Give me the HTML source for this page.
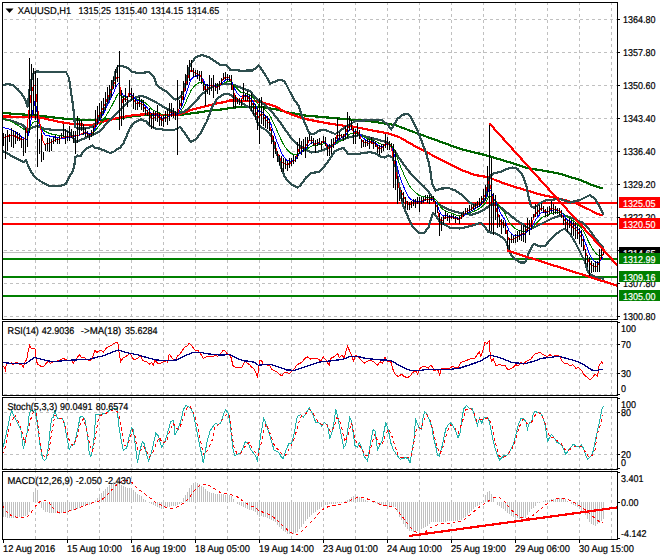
<!DOCTYPE html><html><head><meta charset="utf-8"><style>
html,body{margin:0;padding:0;background:#fff;width:660px;height:560px;overflow:hidden}
svg{display:block}
text{font-family:"Liberation Sans",sans-serif;font-size:9.9px;fill:#000;text-rendering:geometricPrecision;stroke:#000;stroke-width:0.2px}
.w{fill:#fff;stroke:#fff}
</style></head><body>
<svg width="660" height="560" viewBox="0 0 660 560">
<rect x="0" y="0" width="660" height="560" fill="#fff"/>
<path d="M35.5 2 V539 M67.5 2 V539 M99.5 2 V539 M131.5 2 V539 M163.5 2 V539 M195.5 2 V539 M227.5 2 V539 M259.5 2 V539 M291.5 2 V539 M323.5 2 V539 M355.5 2 V539 M387.5 2 V539 M419.5 2 V539 M451.5 2 V539 M483.5 2 V539 M515.5 2 V539 M547.5 2 V539 M579.5 2 V539 M611.5 2 V539" stroke="#c0c0c0" stroke-width="1" stroke-dasharray="3 3" fill="none" shape-rendering="crispEdges"/>
<path d="M4 19.5 H617 M4 52.5 H617 M4 85.5 H617 M4 118.5 H617 M4 151.5 H617 M4 184.5 H617 M4 217.5 H617 M4 250.5 H617 M4 283.5 H617 M4 316.5 H617 M4 344.5 H617 M4 373.5 H617 M4 394.5 H617 M4 412.5 H617 M4 454.5 H617 M4 468.5 H617" stroke="#c0c0c0" stroke-width="1" stroke-dasharray="3 3" fill="none" shape-rendering="crispEdges"/>
<svg x="3" y="3" width="614" height="316" viewBox="3 3 614 316" overflow="hidden">
<path d="M3 252.5 H617" stroke="#c0c0c0" stroke-width="1" shape-rendering="crispEdges"/>
<path d="M3 203 H617" stroke="#ff0000" stroke-width="2" shape-rendering="crispEdges"/>
<path d="M3 224 H617" stroke="#ff0000" stroke-width="2" shape-rendering="crispEdges"/>
<path d="M3 259 H617" stroke="#008000" stroke-width="2" shape-rendering="crispEdges"/>
<path d="M3 277 H617" stroke="#008000" stroke-width="2" shape-rendering="crispEdges"/>
<path d="M3 296 H617" stroke="#008000" stroke-width="2" shape-rendering="crispEdges"/>
<polyline points="3.0,113.0 37.0,115.5 70.0,119.3 91.4,120.0 112.9,119.3 134.3,116.0 150.0,114.5 177.0,115.4 197.9,112.5 215.7,109.8 220.0,109.7 232.9,107.6 245.7,106.9 262.9,107.3 275.7,109.3 288.6,112.5 300.0,114.6 305.0,115.5 350.0,119.5 370.0,121.2 395.0,125.0 415.0,132.5 460.0,148.8 485.0,155.0 510.0,162.5 530.0,168.8 540.0,170.0 560.0,173.8 580.0,180.0 595.0,186.2 603.0,188.5" fill="none" stroke="#006400" stroke-width="2.2" stroke-linejoin="round" shape-rendering="crispEdges"/>
<polyline points="3.0,116.5 37.5,117.0 60.0,122.0 70.0,123.6 82.9,124.6 93.6,124.6 104.3,121.4 117.0,118.0 134.3,115.0 150.0,114.0 166.4,115.0 179.3,114.5 192.1,109.6 197.9,108.0 205.0,106.4 215.7,103.6 225.0,102.0 230.0,100.5 245.7,100.7 258.6,101.5 271.4,105.0 275.0,106.2 284.3,111.4 290.0,113.9 300.0,117.5 307.9,119.5 325.7,123.0 343.6,125.7 350.0,126.0 370.0,130.0 390.0,133.8 400.0,137.5 415.0,146.2 460.0,169.5 475.0,175.0 490.0,177.5 495.0,180.0 510.0,185.5 525.0,190.0 540.0,194.5 565.0,200.0 577.5,203.8 590.0,210.0 597.5,213.8 603.0,215.5" fill="none" stroke="#ff0000" stroke-width="2.2" stroke-linejoin="round" shape-rendering="crispEdges"/>
<polyline points="3.0,85.0 7.5,84.0 12.5,85.0 17.5,89.0 22.5,95.0 26.0,101.0 27.5,107.0 29.5,90.0 32.5,74.0 36.0,71.5 50.0,72.0 66.0,72.0 69.0,78.0 71.0,92.0 73.0,105.0 74.3,118.0 75.0,127.0 78.0,128.5 85.0,128.5 92.0,127.0 96.0,123.0 99.0,118.0 103.0,112.0 108.6,102.0 112.9,83.0 116.0,70.0 118.2,65.7 121.4,65.7 127.9,67.9 132.0,72.0 138.6,73.0 145.0,72.5 149.3,72.0 153.6,76.4 156.8,85.0 162.0,89.3 166.4,91.4 170.7,95.7 175.0,99.5 178.0,99.0 181.0,96.0 184.0,90.0 187.0,78.0 189.0,68.0 192.0,62.0 196.0,57.1 201.4,55.0 208.6,57.1 215.7,61.6 220.2,65.2 226.4,65.0 230.0,69.6 241.0,70.7 252.5,70.5 256.4,67.5 258.8,65.5 262.0,70.0 266.0,76.0 270.0,83.7 275.7,81.4 280.0,79.5 283.8,81.0 286.0,84.0 290.0,92.0 295.0,101.0 298.9,106.0 301.6,115.0 305.2,124.0 309.4,133.4 313.7,134.0 319.0,130.7 324.4,129.7 329.8,131.8 335.2,134.0 340.0,131.0 345.0,127.0 350.0,124.5 355.0,121.2 370.0,120.0 380.0,120.0 382.5,120.5 387.5,124.5 391.2,129.5 393.8,125.0 397.5,118.8 402.5,114.8 407.5,113.8 411.2,117.5 416.2,127.5 421.2,140.0 425.0,150.0 428.8,162.5 430.5,172.0 432.1,184.0 435.5,190.5 440.9,188.6 448.9,188.1 455.4,190.5 460.2,193.8 465.0,197.8 470.0,203.0 475.0,205.0 480.0,204.0 485.0,200.0 487.0,195.0 489.0,178.0 492.5,173.8 500.0,172.0 507.5,168.8 512.5,167.5 517.5,168.8 522.5,175.0 526.2,185.0 528.8,198.0 531.0,206.0 534.0,208.0 538.0,205.0 542.0,202.0 545.0,200.5 550.0,200.0 560.0,198.8 570.0,202.5 580.0,200.0 590.0,195.0 595.0,198.8 600.0,207.5 603.5,215.0" fill="none" stroke="#2f4f4f" stroke-width="2.2" stroke-linejoin="round" shape-rendering="crispEdges"/>
<polyline points="3.0,119.0 12.5,121.0 22.5,125.0 27.5,130.0 32.5,127.5 37.5,126.0 45.0,129.0 55.0,130.0 65.0,130.0 70.0,133.0 73.0,138.0 75.4,142.0 80.7,140.0 88.2,136.8 93.6,134.7 100.0,131.4 106.4,123.6 115.0,115.0 121.4,108.6 127.9,102.0 134.3,97.9 140.7,96.0 145.0,96.8 150.0,99.0 155.7,102.1 166.4,108.6 175.0,112.9 179.3,113.0 183.5,112.0 188.5,108.8 194.8,102.5 201.0,95.0 204.8,92.0 208.6,88.5 215.7,85.7 222.9,83.9 230.0,83.9 235.0,85.3 242.5,88.4 250.0,91.0 255.0,97.5 265.0,105.0 270.9,110.7 278.0,119.3 285.0,129.3 290.9,137.9 296.6,143.6 302.3,147.5 306.0,150.0 311.4,152.5 318.6,151.6 324.0,149.8 329.3,147.1 333.0,145.0 338.0,142.0 343.6,139.0 350.0,137.0 360.0,135.0 375.0,138.8 387.5,142.5 392.5,147.5 399.0,157.9 407.9,170.2 416.8,180.0 424.0,186.5 431.0,195.0 434.4,201.5 440.9,205.5 449.4,210.0 460.0,213.0 465.0,214.0 471.4,214.7 477.9,213.0 484.3,209.8 490.0,205.0 495.0,203.8 502.5,208.8 510.0,215.0 517.5,221.2 522.5,224.0 525.0,226.0 530.0,229.0 535.0,227.0 540.0,224.5 547.0,221.0 553.0,218.0 560.0,215.5 565.0,216.0 570.0,217.0 575.4,219.7 582.0,222.4 588.8,229.0 595.5,238.5 602.2,246.5 603.8,247.5" fill="none" stroke="#2f4f4f" stroke-width="2.2" stroke-linejoin="round" shape-rendering="crispEdges"/>
<polyline points="3.0,151.0 10.0,155.0 17.5,159.0 24.0,162.5 26.0,160.0 27.5,164.0 30.0,170.0 35.0,177.5 42.5,182.5 50.0,186.0 60.0,186.0 66.0,184.0 70.0,175.0 72.5,172.0 74.3,166.0 75.4,157.0 77.5,155.5 80.7,156.0 82.9,151.8 86.0,149.0 92.5,145.4 94.7,148.0 100.0,148.6 102.9,150.0 110.0,152.9 114.3,151.4 117.0,149.3 120.0,148.0 123.6,142.9 130.0,127.9 134.3,122.5 140.7,119.3 146.0,121.4 150.0,125.7 155.0,128.5 166.4,130.0 174.0,130.0 180.0,127.0 185.4,133.9 190.7,142.0 196.0,139.3 201.4,132.1 206.8,121.4 212.1,107.1 217.5,98.2 224.6,93.8 230.0,94.6 235.4,98.2 242.5,103.6 250.0,108.0 256.4,118.0 258.0,124.0 262.5,128.0 267.5,131.0 272.3,137.9 276.6,152.0 280.9,166.4 284.3,176.0 288.6,182.0 292.9,185.4 297.1,187.5 300.0,186.0 306.0,177.5 311.4,173.0 318.6,172.1 324.0,166.8 329.3,159.6 334.6,151.6 340.0,148.9 343.6,148.0 348.0,154.0 358.7,153.8 369.4,152.2 375.0,153.0 380.0,156.4 384.4,157.5 388.7,155.4 392.5,157.5 396.0,168.0 399.0,185.0 402.5,204.0 405.0,210.0 407.9,216.8 413.2,227.5 418.6,232.9 424.0,232.9 428.4,227.5 431.0,218.6 432.9,213.2 436.0,216.0 440.2,222.2 450.0,227.6 460.0,228.5 470.0,226.2 476.0,224.3 480.4,222.8 483.8,225.5 488.5,232.2 495.0,233.0 500.5,236.2 504.5,239.0 507.2,244.3 508.5,249.6 511.0,255.0 515.0,259.0 520.0,262.5 525.0,262.5 530.0,250.0 533.8,243.8 540.0,246.5 545.0,246.0 550.0,240.0 555.0,235.0 560.0,231.0 565.0,228.5 570.0,234.0 575.0,242.0 580.0,252.0 585.0,262.0 588.0,272.0 592.0,275.5 597.5,277.5 603.8,278.8" fill="none" stroke="#2f4f4f" stroke-width="2.2" stroke-linejoin="round" shape-rendering="crispEdges"/>
<polyline points="3.0,118.8 5.0,119.4 7.0,120.0 9.0,120.7 11.0,121.5 13.0,122.6 15.0,123.7 17.0,124.7 19.0,126.0 21.0,127.3 23.0,128.7 25.0,130.0 27.0,130.7 29.0,130.7 31.0,126.0 33.0,122.3 35.0,121.8 37.0,121.2 39.0,123.7 41.0,127.3 43.0,130.2 45.0,131.2 47.0,132.2 49.0,133.2 51.0,133.9 53.0,134.3 55.0,134.7 57.0,135.0 59.0,135.4 61.0,135.7 63.0,136.0 65.0,136.0 67.0,136.0 69.0,136.0 71.0,136.0 73.0,136.0 75.0,136.0 77.0,135.6 79.0,135.2 81.0,134.8 83.0,134.3 85.0,133.9 87.0,133.6 89.0,133.7 91.0,133.5 93.0,133.1 95.0,130.8 97.0,128.5 99.0,125.9 101.0,123.4 103.0,120.7 105.0,117.6 107.0,114.2 109.0,110.8 111.0,107.4 113.0,103.6 115.0,99.7 117.0,95.6 119.0,93.1 121.0,95.4 123.0,97.3 125.0,96.9 127.0,97.6 129.0,96.2 131.0,96.0 133.0,96.7 135.0,97.9 137.0,99.1 139.0,99.5 141.0,100.3 143.0,101.2 145.0,102.7 147.0,104.3 149.0,106.1 151.0,108.5 153.0,110.2 155.0,111.0 157.0,111.4 159.0,112.7 161.0,113.9 163.0,115.0 165.0,115.2 167.0,115.4 169.0,114.9 171.0,114.1 173.0,113.9 175.0,114.2 177.0,114.7 179.0,113.1 181.0,110.9 183.0,107.8 185.0,103.9 187.0,99.4 189.0,95.0 191.0,90.5 193.0,87.8 195.0,85.6 197.0,83.9 199.0,82.7 201.0,81.9 203.0,82.6 205.0,84.5 207.0,85.2 209.0,85.2 211.0,85.1 213.0,85.2 215.0,85.5 217.0,85.9 219.0,85.8 221.0,85.1 223.0,83.8 225.0,82.6 227.0,81.8 229.0,81.2 231.0,81.4 233.0,83.7 235.0,86.5 237.0,88.7 239.0,90.6 241.0,92.4 243.0,92.2 245.0,92.9 247.0,93.4 249.0,94.6 251.0,95.7 253.0,97.7 255.0,99.9 257.0,102.8 259.0,105.6 261.0,106.3 263.0,107.9 265.0,110.0 267.0,111.9 269.0,113.9 271.0,117.4 273.0,122.0 275.0,126.0 277.0,130.6 279.0,135.1 281.0,139.6 283.0,143.5 285.0,146.7 287.0,149.6 289.0,151.7 291.0,153.3 293.0,154.2 295.0,155.0 297.0,154.3 299.0,153.0 301.0,152.2 303.0,151.2 305.0,150.6 307.0,149.3 309.0,147.6 311.0,146.4 313.0,145.7 315.0,145.9 317.0,145.3 319.0,144.7 321.0,144.9 323.0,144.0 325.0,143.6 327.0,144.7 329.0,145.5 331.0,145.7 333.0,145.3 335.0,144.5 337.0,142.2 339.0,141.3 341.0,140.5 343.0,140.1 345.0,138.9 347.0,136.8 349.0,134.7 351.0,133.2 353.0,133.6 355.0,134.0 357.0,133.3 359.0,133.5 361.0,135.1 363.0,136.4 365.0,137.5 367.0,138.3 369.0,139.2 371.0,139.4 373.0,140.2 375.0,140.8 377.0,142.0 379.0,143.3 381.0,144.1 383.0,144.6 385.0,144.0 387.0,143.9 389.0,144.2 391.0,144.4 393.0,147.7 395.0,151.1 397.0,157.1 399.0,162.8 401.0,167.8 403.0,172.3 405.0,177.0 407.0,181.3 409.0,185.0 411.0,188.0 413.0,190.2 415.0,192.3 417.0,193.6 419.0,195.3 421.0,196.1 423.0,196.7 425.0,196.9 427.0,197.2 429.0,197.5 431.0,197.7 433.0,197.8 435.0,199.3 437.0,200.8 439.0,204.5 441.0,207.5 443.0,209.5 445.0,210.3 447.0,211.4 449.0,212.5 451.0,213.1 453.0,213.8 455.0,214.6 457.0,215.2 459.0,215.9 461.0,216.0 463.0,215.6 465.0,214.9 467.0,214.2 469.0,213.4 471.0,212.6 473.0,211.7 475.0,210.8 477.0,209.9 479.0,208.7 481.0,207.5 483.0,205.7 485.0,203.7 487.0,200.2 489.0,196.6 491.0,196.3 493.0,199.0 495.0,200.3 497.0,202.7 499.0,205.5 501.0,208.7 503.0,211.0 505.0,213.6 507.0,217.6 509.0,221.7 511.0,224.2 513.0,226.6 515.0,228.4 517.0,229.6 519.0,230.4 521.0,230.8 523.0,231.2 525.0,231.6 527.0,230.6 529.0,230.1 531.0,229.1 533.0,227.0 535.0,224.5 537.0,222.4 539.0,220.4 541.0,218.3 543.0,216.9 545.0,216.3 547.0,215.6 549.0,214.8 551.0,213.6 553.0,212.9 555.0,212.5 557.0,212.2 559.0,212.0 561.0,212.3 563.0,213.6 565.0,215.1 567.0,216.8 569.0,217.7 571.0,219.2 573.0,220.7 575.0,222.2 577.0,223.7 579.0,225.5 581.0,227.5 583.0,230.1 585.0,234.2 587.0,238.2 589.0,242.6 591.0,246.3 593.0,249.6 595.0,252.2 597.0,254.4 599.0,255.3 601.0,255.0 603.0,254.4" fill="none" stroke="#008000" stroke-width="1" shape-rendering="crispEdges"/>
<polyline points="3.0,127.5 5.0,128.0 7.0,128.6 9.0,129.1 11.0,129.6 13.0,130.4 15.0,131.9 17.0,133.4 19.0,134.9 21.0,136.4 23.0,137.8 25.0,138.8 27.0,139.8 29.0,131.4 31.0,120.0 33.0,110.5 35.0,101.0 37.0,111.6 39.0,122.2 41.0,129.0 43.0,132.0 45.0,135.0 47.0,135.4 49.0,135.9 51.0,136.3 53.0,136.7 55.0,137.1 57.0,137.6 59.0,138.0 61.0,138.4 63.0,138.6 65.0,138.2 67.0,137.8 69.0,137.4 71.0,136.9 73.0,136.5 75.0,136.1 77.0,135.6 79.0,135.2 81.0,134.6 83.0,133.6 85.0,133.0 87.0,132.8 89.0,133.5 91.0,133.4 93.0,132.5 95.0,128.5 97.0,124.8 99.0,121.1 101.0,117.8 103.0,114.5 105.0,110.5 107.0,106.1 109.0,102.2 111.0,98.2 113.0,93.9 115.0,89.4 117.0,84.8 119.0,83.1 121.0,90.2 123.0,95.3 125.0,95.2 127.0,97.0 129.0,94.6 131.0,94.6 133.0,96.4 135.0,98.7 137.0,100.7 139.0,101.0 141.0,102.0 143.0,103.2 145.0,105.4 147.0,107.6 149.0,110.1 151.0,113.3 153.0,115.0 155.0,115.3 157.0,114.8 159.0,116.1 161.0,117.5 163.0,118.4 165.0,117.8 167.0,117.5 169.0,115.9 171.0,114.2 173.0,113.8 175.0,114.4 177.0,115.2 179.0,112.1 181.0,108.4 183.0,103.3 185.0,97.3 187.0,90.9 189.0,85.1 191.0,79.6 193.0,77.6 195.0,76.4 197.0,75.9 199.0,75.9 201.0,76.4 203.0,79.3 205.0,83.8 207.0,85.3 209.0,85.2 211.0,85.0 213.0,85.3 215.0,85.7 217.0,86.4 219.0,86.2 221.0,84.8 223.0,82.3 225.0,80.5 227.0,79.7 229.0,79.2 231.0,80.2 233.0,84.8 235.0,89.6 237.0,92.8 239.0,95.1 241.0,97.2 243.0,95.5 245.0,95.8 247.0,95.9 249.0,97.4 251.0,98.7 253.0,101.5 255.0,104.5 257.0,108.6 259.0,112.1 261.0,111.6 263.0,113.0 265.0,115.4 267.0,117.5 269.0,119.7 271.0,124.5 273.0,130.9 275.0,135.8 277.0,141.6 279.0,146.9 281.0,151.8 283.0,155.6 285.0,158.1 287.0,160.3 289.0,161.0 291.0,161.3 293.0,160.8 295.0,160.3 297.0,157.6 299.0,154.2 301.0,152.4 303.0,150.5 305.0,149.5 307.0,147.5 309.0,144.7 311.0,143.3 313.0,142.9 315.0,144.0 317.0,143.6 319.0,143.0 321.0,143.8 323.0,142.5 325.0,142.2 327.0,144.6 329.0,146.1 331.0,146.3 333.0,145.4 335.0,143.8 337.0,139.8 339.0,138.8 341.0,138.0 343.0,137.9 345.0,136.5 347.0,133.2 349.0,130.4 351.0,128.8 353.0,130.7 355.0,132.3 357.0,131.5 359.0,132.4 361.0,135.6 363.0,137.9 365.0,139.5 367.0,140.4 369.0,141.5 371.0,141.2 373.0,142.2 375.0,142.7 377.0,144.5 379.0,146.1 381.0,146.7 383.0,146.9 385.0,145.2 387.0,144.7 389.0,145.0 391.0,145.1 393.0,151.0 395.0,156.4 397.0,166.0 399.0,174.1 401.0,180.2 403.0,185.0 405.0,190.0 407.0,194.3 409.0,197.5 411.0,199.5 413.0,200.3 415.0,201.2 417.0,201.1 419.0,202.1 421.0,201.7 423.0,201.1 425.0,200.2 427.0,199.9 429.0,199.8 431.0,199.4 433.0,199.2 435.0,201.6 437.0,203.7 439.0,209.7 441.0,213.8 443.0,215.7 445.0,215.5 447.0,215.9 449.0,216.7 451.0,216.7 453.0,216.8 455.0,217.5 457.0,217.9 459.0,218.4 461.0,217.8 463.0,216.6 465.0,215.0 467.0,213.8 469.0,212.3 471.0,211.1 473.0,209.9 475.0,208.7 477.0,207.6 479.0,206.1 481.0,204.6 483.0,202.1 485.0,199.4 487.0,194.2 489.0,189.2 491.0,190.7 493.0,197.4 495.0,200.2 497.0,204.7 499.0,209.3 501.0,214.1 503.0,217.0 505.0,220.0 507.0,225.6 509.0,230.9 511.0,233.0 513.0,234.9 515.0,235.8 517.0,236.0 519.0,235.6 521.0,234.9 523.0,234.5 525.0,234.3 527.0,231.6 529.0,230.4 531.0,228.4 533.0,224.8 535.0,220.7 537.0,217.9 539.0,215.4 541.0,213.0 543.0,211.9 545.0,212.2 547.0,212.2 549.0,211.6 551.0,210.2 553.0,210.0 555.0,209.9 557.0,210.1 559.0,210.5 561.0,211.5 563.0,214.0 565.0,216.8 567.0,219.3 569.0,220.4 571.0,222.3 573.0,224.3 575.0,226.0 577.0,227.7 579.0,230.0 581.0,232.4 583.0,235.9 585.0,241.8 587.0,247.1 589.0,252.7 591.0,256.8 593.0,259.8 595.0,261.7 597.0,263.1 599.0,262.3 601.0,259.7 603.0,257.3" fill="none" stroke="#0000ff" stroke-width="1" shape-rendering="crispEdges"/>
<polyline points="3.0,137.5 5.0,137.0 7.0,136.4 9.0,135.9 11.0,135.4 13.0,135.2 15.0,136.2 17.0,137.2 19.0,138.2 21.0,139.2 23.0,139.6 25.0,138.2 27.0,128.3 29.0,110.0 31.0,95.3 33.0,87.0 35.0,85.0 37.0,102.3 39.0,118.9 41.0,129.9 43.0,140.9 45.0,144.5 47.0,143.7 49.0,142.9 51.0,142.1 53.0,141.3 55.0,140.5 57.0,139.7 59.0,138.9 61.0,138.1 63.0,137.4 65.0,137.1 67.0,136.9 69.0,136.6 71.0,136.3 73.0,136.0 75.0,135.7 77.0,135.4 79.0,135.1 81.0,134.2 83.0,133.1 85.0,132.9 87.0,133.4 89.0,135.0 91.0,134.2 93.0,132.0 95.0,124.3 97.0,119.3 99.0,115.0 101.0,111.8 103.0,108.6 105.0,104.1 107.0,98.9 109.0,95.3 111.0,91.2 113.0,86.5 115.0,81.7 117.0,76.9 119.0,78.1 121.0,95.2 123.0,102.5 125.0,98.2 127.0,100.1 129.0,93.5 131.0,94.1 133.0,98.0 135.0,101.7 137.0,103.9 139.0,102.8 141.0,103.8 143.0,105.0 145.0,108.4 147.0,111.0 149.0,114.1 151.0,118.2 153.0,118.9 155.0,117.2 157.0,115.1 159.0,117.6 161.0,119.4 163.0,120.2 165.0,117.9 167.0,117.3 169.0,114.2 171.0,111.9 173.0,112.4 175.0,114.4 177.0,115.9 179.0,109.4 181.0,103.4 183.0,96.0 185.0,88.3 187.0,80.7 189.0,74.9 191.0,69.8 193.0,71.3 195.0,72.6 197.0,73.7 199.0,75.0 201.0,76.4 203.0,82.2 205.0,89.5 207.0,89.2 209.0,86.8 211.0,85.5 213.0,85.9 215.0,86.4 217.0,87.4 219.0,86.3 221.0,83.4 223.0,79.3 225.0,77.4 227.0,77.6 229.0,77.8 231.0,80.5 233.0,89.6 235.0,96.4 237.0,98.8 239.0,100.1 241.0,101.4 243.0,95.6 245.0,96.3 247.0,96.1 249.0,99.0 251.0,100.6 253.0,105.3 255.0,109.1 257.0,114.6 259.0,118.2 261.0,113.7 263.0,115.2 265.0,118.8 267.0,121.1 269.0,123.3 271.0,130.8 273.0,140.2 275.0,144.5 277.0,151.3 279.0,156.3 281.0,160.8 283.0,163.2 285.0,163.8 287.0,164.9 289.0,163.8 291.0,162.8 293.0,160.8 295.0,159.9 297.0,154.6 299.0,149.5 301.0,148.6 303.0,146.9 305.0,147.1 307.0,144.5 309.0,140.6 311.0,140.1 313.0,141.2 315.0,144.4 317.0,143.3 319.0,142.2 321.0,144.2 323.0,141.4 325.0,141.4 327.0,146.6 329.0,148.6 331.0,147.6 333.0,145.0 335.0,142.0 337.0,135.1 339.0,135.7 341.0,135.9 343.0,136.9 345.0,134.6 347.0,129.2 349.0,125.8 351.0,125.2 353.0,131.1 355.0,134.0 357.0,131.5 359.0,133.3 361.0,139.2 363.0,141.7 365.0,142.8 367.0,142.6 369.0,143.5 371.0,141.7 373.0,143.4 375.0,143.8 377.0,146.7 379.0,148.6 381.0,148.5 383.0,147.8 385.0,143.9 387.0,143.7 389.0,144.9 391.0,145.1 393.0,156.9 395.0,164.4 397.0,178.9 399.0,187.7 401.0,192.1 403.0,195.0 405.0,199.2 407.0,202.6 409.0,204.3 411.0,204.3 413.0,203.3 415.0,203.4 417.0,201.8 419.0,203.4 421.0,201.8 423.0,200.6 425.0,199.2 427.0,199.0 429.0,199.3 431.0,198.7 433.0,198.8 435.0,203.8 437.0,206.8 439.0,217.0 441.0,221.1 443.0,220.7 445.0,217.4 447.0,217.2 449.0,218.1 451.0,217.3 453.0,217.2 455.0,218.4 457.0,218.6 459.0,219.3 461.0,217.5 463.0,215.4 465.0,212.7 467.0,211.6 469.0,209.9 471.0,208.9 473.0,207.7 475.0,206.6 477.0,205.5 479.0,203.7 481.0,202.0 483.0,198.6 485.0,195.2 487.0,187.1 489.0,181.2 491.0,188.8 493.0,203.2 495.0,205.6 497.0,211.5 499.0,216.9 501.0,222.2 503.0,223.2 505.0,225.7 507.0,233.6 509.0,239.7 511.0,238.9 513.0,239.2 515.0,238.7 517.0,237.3 519.0,235.8 521.0,234.2 523.0,233.8 525.0,233.8 527.0,228.8 529.0,228.0 531.0,225.4 533.0,219.9 535.0,214.5 537.0,212.5 539.0,210.5 541.0,208.5 543.0,208.9 545.0,211.3 547.0,211.7 549.0,210.9 551.0,208.4 553.0,209.0 555.0,209.5 557.0,210.1 559.0,210.8 561.0,212.6 563.0,217.0 565.0,220.8 567.0,223.6 569.0,223.3 571.0,225.5 573.0,227.6 575.0,229.2 577.0,230.7 579.0,233.6 581.0,236.4 583.0,241.0 585.0,249.9 587.0,256.0 589.0,262.0 591.0,264.9 593.0,266.2 595.0,266.4 597.0,266.4 599.0,263.0 601.0,257.4 603.0,253.9" fill="none" stroke="#ff0000" stroke-width="1" shape-rendering="crispEdges"/>
<path d="M3.5 132.9 V146.4 M5.5 134.0 V158.6 M7.5 130.0 V150.7 M9.5 134.0 V142.0 M11.5 128.2 V147.0 M13.5 130.0 V147.9 M15.5 131.0 V143.6 M17.5 132.0 V141.4 M19.5 133.2 V141.4 M21.5 136.4 V147.5 M23.5 139.3 V155.7 M25.5 128.2 V152.5 M27.5 130.7 V146.8 M29.5 58.0 V133.0 M31.5 64.0 V117.0 M33.5 68.0 V115.0 M35.5 71.0 V120.0 M37.5 78.0 V167.0 M39.5 139.0 V154.0 M41.5 133.0 V162.0 M43.5 151.8 V160.4 M45.5 144.3 V150.7 M47.5 137.9 V150.7 M49.5 138.4 V152.3 M51.5 139.0 V151.0 M53.5 136.8 V144.3 M55.5 135.2 V142.2 M57.5 138.4 V144.3 M59.5 135.7 V144.3 M61.5 132.5 V137.9 M63.5 124.0 V136.8 M65.5 129.3 V144.3 M67.5 131.4 V141.0 M69.5 126.0 V141.0 M71.5 129.3 V137.9 M73.5 131.0 V143.0 M75.5 131.4 V154.0 M77.5 116.4 V143.2 M79.5 119.6 V134.7 M81.5 119.6 V131.4 M83.5 124.0 V134.7 M85.5 128.2 V136.8 M87.5 131.4 V136.8 M89.5 133.6 V140.0 M91.5 130.4 V136.8 M93.5 126.0 V134.7 M95.5 110.0 V127.0 M97.5 106.0 V125.0 M99.5 103.0 V120.7 M101.5 101.4 V117.5 M103.5 98.2 V114.3 M105.5 91.8 V109.5 M107.5 87.0 V103.0 M109.5 85.4 V99.8 M111.5 79.7 V96.6 M113.5 77.3 V88.6 M115.5 69.3 V87.0 M117.5 64.5 V82.0 M119.5 50.8 V130.4 M121.5 90.0 V126.0 M123.5 96.0 V120.0 M125.5 88.0 V102.0 M127.5 96.0 V107.0 M129.5 80.0 V97.0 M131.5 88.0 V101.0 M133.5 93.0 V109.0 M135.5 99.0 V110.0 M137.5 101.0 V110.0 M139.5 97.0 V107.0 M141.5 99.0 V110.0 M143.5 100.0 V112.0 M145.5 107.0 V115.0 M147.5 110.0 V116.0 M149.5 107.9 V124.8 M151.5 113.2 V129.3 M153.5 110.5 V128.4 M155.5 110.5 V121.2 M157.5 105.2 V122.0 M159.5 113.2 V125.7 M161.5 115.9 V125.7 M163.5 115.0 V126.6 M165.5 110.5 V122.0 M167.5 108.8 V124.8 M169.5 102.5 V121.2 M171.5 103.4 V116.8 M173.5 107.9 V117.7 M175.5 111.4 V120.4 M177.5 79.6 V154.6 M179.5 100.0 V109.0 M181.5 91.0 V107.0 M183.5 81.0 V100.0 M185.5 74.0 V91.0 M187.5 65.0 V85.0 M189.5 60.0 V81.0 M191.5 60.0 V72.0 M193.5 68.0 V77.0 M195.5 70.0 V77.0 M197.5 70.0 V79.0 M199.5 71.0 V81.0 M201.5 71.0 V84.0 M203.5 82.0 V91.0 M205.5 84.0 V106.0 M207.5 84.0 V94.0 M209.5 75.0 V95.0 M211.5 78.0 V91.0 M213.5 75.0 V97.5 M215.5 82.5 V91.0 M217.5 82.5 V93.8 M219.5 81.0 V90.0 M221.5 77.5 V85.0 M223.5 72.5 V80.0 M225.5 72.0 V80.0 M227.5 74.4 V81.0 M229.5 75.0 V81.0 M231.5 75.0 V90.0 M233.5 85.0 V108.0 M235.5 95.0 V108.0 M237.5 97.5 V103.8 M239.5 97.5 V104.5 M241.5 98.8 V106.0 M243.5 82.5 V100.0 M245.5 92.5 V101.0 M247.5 91.0 V101.0 M249.5 95.0 V107.5 M251.5 92.5 V111.0 M253.5 102.5 V115.0 M255.5 104.0 V120.0 M257.5 107.5 V130.0 M259.5 98.0 V143.6 M261.5 97.0 V123.6 M263.5 106.4 V126.4 M265.5 115.0 V128.0 M267.5 116.4 V129.3 M269.5 119.3 V130.7 M271.5 129.3 V143.6 M273.5 136.4 V157.9 M275.5 142.0 V153.6 M277.5 150.7 V162.0 M279.5 155.0 V165.0 M281.5 156.4 V172.0 M283.5 158.0 V172.0 M285.5 159.3 V169.3 M287.5 160.7 V170.7 M289.5 157.9 V167.9 M291.5 157.9 V166.4 M293.5 155.0 V163.6 M295.5 156.4 V162.0 M297.5 142.0 V159.3 M299.5 137.9 V153.6 M301.5 140.7 V155.0 M303.5 139.3 V152.0 M305.5 137.0 V157.5 M307.5 137.0 V148.0 M309.5 134.0 V141.4 M311.5 136.0 V143.6 M313.5 138.2 V145.7 M315.5 140.4 V153.2 M317.5 139.3 V145.7 M319.5 138.2 V144.7 M321.5 141.4 V150.0 M323.5 136.0 V142.5 M325.5 137.2 V145.7 M327.5 144.7 V156.4 M329.5 143.6 V156.4 M331.5 139.3 V154.3 M333.5 138.2 V147.9 M335.5 137.2 V142.5 M337.5 118.4 V141.4 M339.5 131.8 V140.4 M341.5 134.0 V138.2 M343.5 134.0 V141.4 M345.5 126.4 V139.3 M347.5 112.0 V138.2 M349.5 115.7 V130.7 M351.5 120.0 V129.7 M353.5 127.5 V143.6 M355.5 128.6 V143.6 M357.5 123.2 V136.0 M359.5 130.2 V139.3 M361.5 139.3 V147.9 M363.5 140.4 V146.8 M365.5 140.4 V146.8 M367.5 139.3 V145.7 M369.5 139.3 V149.0 M371.5 137.2 V143.6 M373.5 140.4 V149.0 M375.5 141.4 V146.8 M377.5 144.7 V153.2 M379.5 144.7 V155.4 M381.5 143.6 V153.2 M383.5 143.6 V151.0 M385.5 134.0 V147.9 M387.5 137.2 V150.0 M389.5 141.4 V150.0 M391.5 142.5 V147.9 M393.5 143.6 V188.0 M395.5 150.0 V190.0 M397.5 175.7 V204.0 M399.5 188.0 V200.7 M401.5 190.0 V200.7 M403.5 191.8 V202.5 M405.5 197.0 V207.9 M407.5 200.7 V209.6 M409.5 201.6 V209.6 M411.5 200.7 V207.9 M413.5 199.0 V206.0 M415.5 199.0 V207.9 M417.5 197.0 V204.3 M419.5 197.0 V212.3 M421.5 197.0 V204.3 M423.5 197.0 V202.5 M425.5 195.4 V200.7 M427.5 195.4 V202.5 M429.5 194.6 V204.3 M431.5 195.7 V201.0 M433.5 195.7 V202.0 M435.5 201.0 V214.0 M437.5 205.4 V212.9 M439.5 212.9 V236.4 M441.5 217.2 V231.0 M443.5 216.0 V224.7 M445.5 210.7 V219.3 M447.5 213.0 V221.0 M449.5 215.0 V222.5 M451.5 214.0 V219.3 M453.5 215.0 V219.3 M455.5 216.0 V222.5 M457.5 217.0 V220.4 M459.5 216.0 V223.6 M461.5 212.9 V219.3 M463.5 210.7 V217.0 M465.5 207.5 V214.0 M467.5 208.0 V213.5 M469.5 205.4 V212.0 M471.5 205.4 V211.0 M473.5 204.0 V209.5 M475.5 202.8 V208.8 M477.5 201.4 V208.0 M479.5 198.0 V206.8 M481.5 196.0 V205.4 M483.5 189.4 V202.8 M485.5 185.4 V200.0 M487.5 166.0 V196.0 M489.5 122.5 V230.9 M491.5 158.0 V231.0 M493.5 193.0 V235.0 M495.5 194.7 V220.0 M497.5 204.0 V228.0 M499.5 214.8 V227.0 M501.5 218.8 V233.5 M503.5 220.0 V228.0 M505.5 221.5 V233.5 M507.5 229.5 V249.6 M509.5 237.6 V251.0 M511.5 233.5 V243.0 M513.5 236.0 V243.0 M515.5 233.5 V243.0 M517.5 231.0 V241.6 M519.5 229.5 V240.0 M521.5 225.0 V241.0 M523.5 225.0 V242.0 M525.5 225.0 V242.5 M527.5 218.0 V232.0 M529.5 220.0 V235.0 M531.5 217.0 V229.7 M533.5 213.6 V218.0 M535.5 204.0 V217.0 M537.5 206.0 V216.0 M539.5 204.5 V213.6 M541.5 203.0 V211.0 M543.5 206.0 V212.5 M545.5 209.0 V217.0 M547.5 207.0 V217.0 M549.5 206.0 V214.6 M551.5 200.7 V212.5 M553.5 204.0 V215.0 M555.5 206.0 V213.6 M557.5 207.7 V213.6 M559.5 208.0 V214.6 M561.5 210.0 V218.0 M563.5 215.7 V225.0 M565.5 218.4 V229.0 M567.5 219.7 V231.8 M569.5 218.4 V227.8 M571.5 219.7 V234.5 M573.5 222.4 V235.8 M575.5 222.4 V238.5 M577.5 225.0 V238.5 M579.5 227.8 V243.8 M581.5 230.4 V246.5 M583.5 238.5 V250.5 M585.5 249.0 V264.0 M587.5 254.5 V266.6 M589.5 257.0 V276.0 M591.5 261.0 V273.0 M593.5 262.5 V272.0 M595.5 261.0 V272.0 M597.5 261.0 V272.0 M599.5 249.0 V272.0 M601.5 248.0 V258.5 M603.5 248.0 V254.5" stroke="#000" stroke-width="1" fill="none" shape-rendering="crispEdges"/>
<path d="M489.5 123.5 L640 290.5" stroke="#ff0000" stroke-width="2.2" fill="none" shape-rendering="crispEdges"/>
<path d="M507 250.5 L640 293" stroke="#ff0000" stroke-width="2.2" fill="none" shape-rendering="crispEdges"/>
</svg>
<svg x="3" y="322" width="614" height="73" viewBox="3 322 614 73" overflow="hidden">
<polyline points="3.0,365.8 4.2,367.5 5.3,370.0 6.3,364.0 7.5,362.5 10.0,363.3 11.7,362.5 13.3,365.0 15.8,362.5 17.5,362.5 19.2,364.2 21.7,364.7 23.3,366.7 25.0,361.7 26.7,360.0 28.3,350.8 29.7,345.3 30.8,348.0 33.3,348.3 35.0,348.7 36.3,360.0 37.5,364.2 40.0,365.8 42.5,366.7 44.2,365.8 46.7,362.5 48.3,361.3 50.0,363.3 51.7,362.5 55.0,361.3 58.3,360.8 61.7,359.2 63.3,358.3 65.8,359.7 68.3,360.8 70.0,360.0 71.7,360.0 73.3,363.0 75.8,360.0 79.2,354.7 81.7,357.5 84.2,357.5 86.7,359.7 90.0,360.8 92.5,357.5 95.0,349.7 96.7,352.5 99.2,350.8 101.7,350.5 103.3,352.0 106.7,347.5 110.8,345.8 114.2,343.3 116.7,342.0 118.0,344.2 119.2,353.3 120.8,361.7 123.3,357.5 125.8,356.7 130.0,353.3 131.7,356.7 134.2,360.0 137.5,358.3 140.0,355.8 143.3,360.8 146.7,361.7 149.2,364.2 151.7,362.5 153.3,365.3 155.0,360.0 157.5,363.3 160.8,363.3 163.3,361.7 166.7,360.8 167.5,362.2 169.2,354.2 171.7,357.5 175.0,360.8 177.5,355.8 180.0,354.2 182.5,350.0 185.0,347.0 187.5,345.8 189.2,343.0 191.7,345.8 195.0,350.0 198.3,350.8 200.8,354.2 203.3,358.3 206.7,356.7 211.7,356.3 213.3,356.3 215.8,355.0 217.5,356.3 220.0,354.2 223.3,350.3 225.0,350.8 226.7,353.3 229.2,354.7 230.8,356.7 233.3,366.7 236.7,367.5 241.7,367.5 245.0,360.8 247.5,363.3 250.0,365.0 251.7,367.5 253.3,368.3 255.0,370.8 256.7,375.0 257.5,378.3 258.7,366.7 259.7,360.3 261.7,360.8 263.3,364.7 266.7,365.0 269.2,365.0 271.7,369.2 274.2,370.8 276.7,372.0 279.2,374.2 281.7,375.8 284.2,372.5 287.5,373.0 290.0,373.3 292.5,370.8 295.0,368.3 296.7,365.0 300.0,363.3 302.5,361.7 305.0,358.3 307.5,357.0 310.8,359.2 313.3,358.3 317.5,358.5 320.8,360.8 323.3,357.0 325.8,360.0 329.2,365.3 330.8,358.3 334.2,356.7 337.5,353.3 339.2,357.5 341.7,355.3 344.2,357.5 347.5,346.3 350.0,351.7 351.7,355.8 353.3,361.3 355.8,355.3 358.3,357.5 361.7,360.8 364.2,363.3 366.7,361.7 369.2,360.0 371.7,360.8 374.2,362.0 377.5,365.3 380.0,361.7 382.5,363.0 385.0,357.5 387.5,361.3 390.8,361.7 392.5,368.3 395.0,374.2 398.3,376.7 401.7,374.2 404.2,376.7 407.5,377.5 410.0,376.3 412.5,372.5 415.8,370.8 417.5,374.2 420.0,368.3 423.3,366.3 425.8,366.7 428.3,368.0 430.8,365.3 432.5,367.0 434.2,370.8 436.7,369.2 438.3,370.8 439.7,375.0 441.3,368.3 445.0,368.0 450.0,368.0 452.5,366.3 455.0,367.5 458.3,367.5 460.8,362.5 464.2,361.3 468.3,359.7 471.7,358.3 475.0,358.3 477.5,354.2 479.2,351.7 480.8,356.7 483.3,349.2 485.0,342.5 486.7,343.7 488.3,342.0 489.2,341.3 490.0,351.7 491.3,361.7 493.3,359.2 495.8,365.0 498.3,365.0 500.0,364.2 502.5,365.8 505.0,365.0 507.5,369.2 510.0,369.2 513.3,367.5 515.8,364.7 518.3,365.8 520.8,362.5 523.3,364.2 525.8,361.7 528.3,360.3 530.8,359.2 533.3,355.8 535.8,353.3 538.3,353.0 540.0,352.0 542.5,354.2 545.0,355.8 547.5,356.3 550.0,354.7 552.5,356.3 555.0,355.8 557.5,355.3 560.0,356.7 562.5,361.7 565.0,363.7 567.5,363.3 570.0,365.8 573.0,364.7 575.8,368.3 578.3,367.5 581.7,370.8 584.2,374.7 586.7,377.0 590.0,380.3 592.5,377.5 595.0,374.2 597.5,376.3 599.2,364.7 601.7,362.0 603.0,363.7" fill="none" stroke="#ff0000" stroke-width="1" shape-rendering="crispEdges"/>
<polyline points="3.0,362.5 10.0,363.3 16.7,363.3 23.3,363.7 26.7,363.0 30.8,360.0 35.0,357.0 37.5,358.3 43.3,359.7 50.0,361.2 58.3,361.2 66.7,360.3 75.0,360.0 83.3,359.2 90.0,359.2 96.7,357.2 103.3,355.8 111.7,352.5 118.3,350.0 123.3,351.7 130.0,353.3 138.3,355.0 146.7,357.5 155.0,359.7 163.3,360.8 171.7,360.3 176.7,360.0 185.0,355.8 193.3,352.2 200.0,352.2 206.7,353.7 216.7,354.7 220.0,355.0 230.0,354.7 236.7,358.3 243.3,360.8 250.0,361.3 255.0,362.5 258.3,365.3 263.3,364.7 271.7,364.7 280.0,367.5 286.7,370.0 295.0,370.3 303.3,367.5 311.7,364.7 320.0,362.0 331.7,360.8 343.3,359.2 350.0,356.3 356.7,356.2 365.0,358.3 373.3,359.2 381.7,360.0 390.8,360.3 398.3,365.0 406.7,369.2 411.7,370.5 418.3,370.8 425.0,369.7 430.0,369.7 440.0,369.5 451.7,369.2 460.0,368.0 470.0,364.7 480.0,361.3 485.0,358.3 490.0,355.3 496.7,356.7 505.0,359.7 511.7,362.5 520.0,363.3 526.7,363.3 535.0,360.8 541.7,358.3 550.0,357.5 558.3,356.2 565.0,358.0 573.3,360.3 581.7,363.3 586.7,366.7 591.7,370.0 596.7,370.8 600.0,369.5 603.0,369.2" fill="none" stroke="#000080" stroke-width="1.3" shape-rendering="crispEdges"/>
</svg>
<svg x="3" y="398" width="614" height="71" viewBox="3 398 614 71" overflow="hidden">
<polyline points="2.5,448.0 4.2,443.0 7.5,428.0 10.0,416.3 11.7,410.5 13.0,413.8 15.0,418.0 18.3,424.7 20.8,428.8 23.3,448.8 25.0,441.3 27.5,430.5 29.2,414.7 30.8,409.7 33.3,411.3 35.0,410.5 37.5,424.7 40.0,444.7 42.5,458.0 44.2,460.5 45.8,459.7 48.3,448.0 50.0,431.3 51.7,418.0 53.3,417.2 55.0,410.5 56.7,416.3 58.3,418.8 62.5,418.8 64.2,423.0 66.7,436.3 69.2,449.7 71.7,444.7 74.2,444.7 76.7,433.8 78.3,426.3 80.0,417.2 82.5,416.3 85.0,419.7 87.5,434.7 89.2,453.0 90.8,456.3 92.5,450.5 94.2,436.3 95.8,414.7 98.3,414.7 100.0,414.7 103.3,413.8 106.7,413.0 109.2,410.5 113.3,408.8 117.5,408.0 118.3,423.0 120.8,438.0 123.3,450.5 126.7,448.0 129.2,436.3 131.7,428.0 133.3,429.7 135.3,444.7 137.5,463.0 140.0,449.7 142.5,441.7 144.2,443.8 146.7,454.7 148.7,461.3 150.8,454.7 153.3,444.7 155.8,433.0 158.3,436.0 161.7,447.2 165.0,441.3 168.3,430.5 170.8,421.3 173.3,420.5 175.0,434.7 177.5,430.5 180.8,421.3 183.3,409.7 185.8,405.5 188.3,406.3 190.8,408.8 193.3,413.0 195.8,426.3 199.2,443.0 201.7,454.7 203.3,463.0 205.0,453.0 207.5,439.7 210.0,431.3 212.5,427.2 215.8,423.0 218.3,424.7 220.8,423.0 223.3,414.7 225.8,409.3 228.3,413.8 230.0,423.0 231.7,438.0 233.3,451.3 235.0,455.5 238.3,453.8 240.8,453.0 243.3,447.2 245.3,441.7 248.3,443.0 250.8,449.7 253.3,453.0 255.3,455.5 257.5,460.5 259.2,446.3 260.8,434.7 262.5,424.7 263.7,418.3 265.0,421.3 267.5,428.8 270.0,436.3 272.5,444.7 274.2,450.5 276.7,451.3 279.2,453.0 281.7,457.7 283.3,458.3 285.8,450.5 289.2,443.0 291.7,443.0 294.2,433.0 296.7,419.7 297.5,416.3 300.8,414.7 303.3,417.2 305.8,413.8 309.2,407.7 312.5,413.8 315.8,422.7 318.3,422.2 321.7,426.0 324.2,422.7 327.5,424.7 329.7,438.8 331.7,433.0 333.7,424.7 335.8,409.3 337.5,416.3 340.0,428.8 342.5,441.3 343.7,447.7 345.8,444.7 347.5,431.3 349.7,417.7 351.7,421.3 353.3,434.7 355.0,445.5 357.5,447.7 359.2,442.2 361.7,448.0 364.2,456.3 367.5,461.0 370.0,446.3 371.7,436.3 373.3,429.3 375.0,431.3 377.5,449.7 380.0,444.7 382.5,439.7 384.2,430.5 385.8,422.7 388.3,429.7 390.8,443.0 393.3,449.7 396.7,454.7 400.0,459.3 403.3,458.3 405.8,457.7 408.3,458.8 410.0,463.0 411.7,453.0 414.2,438.0 415.5,418.3 417.0,423.0 419.2,428.0 421.3,429.3 423.0,418.0 424.7,411.7 426.7,413.8 429.2,419.7 431.7,426.3 433.3,437.2 435.8,446.3 437.5,455.5 439.2,456.0 441.7,448.0 444.2,436.3 445.8,428.8 448.3,424.7 450.8,422.7 453.3,426.3 455.8,431.3 458.0,438.0 460.0,433.0 461.7,419.7 463.7,408.8 466.7,405.5 469.2,408.0 472.5,408.8 475.0,418.0 477.5,425.0 479.7,418.0 481.7,423.3 484.2,417.7 486.7,417.2 488.3,418.0 490.0,424.7 492.5,438.0 495.0,448.0 497.5,455.5 499.7,460.0 503.3,456.0 506.7,455.5 510.0,451.3 513.3,444.7 515.8,434.7 518.3,424.7 520.8,418.8 523.3,418.8 525.8,421.3 527.5,428.8 529.2,423.0 531.7,422.2 533.3,413.8 535.3,411.0 537.5,412.7 540.0,412.2 542.5,416.3 545.0,424.7 546.7,434.7 547.5,442.2 549.2,438.0 551.7,434.3 554.2,438.0 556.7,442.2 559.2,443.3 561.7,445.5 564.2,450.5 565.8,454.3 568.3,450.5 570.8,447.2 573.3,444.3 576.7,446.3 579.2,447.2 581.3,444.3 583.3,448.0 585.8,455.5 587.5,459.3 590.0,457.2 592.5,453.8 594.2,446.3 595.8,438.0 597.5,430.5 599.2,423.0 600.8,414.7 602.0,408.8 603.3,406.0" fill="none" stroke="#20b2aa" stroke-width="1" shape-rendering="crispEdges"/>
<polyline points="2.5,454.7 5.0,448.0 8.3,431.3 11.7,421.3 15.0,414.7 18.3,421.3 21.7,431.3 25.0,443.0 27.5,433.0 30.0,421.3 33.3,412.2 35.8,412.2 38.3,428.0 41.7,451.3 45.0,458.0 48.3,454.7 51.7,433.0 55.0,414.7 57.5,417.7 62.5,418.8 66.7,431.3 70.0,443.0 73.3,445.5 76.7,438.0 80.0,424.7 83.3,418.8 86.7,429.7 90.0,446.3 92.5,451.3 95.8,434.7 98.3,419.7 100.0,415.5 105.0,413.8 111.7,410.5 117.5,411.3 120.0,419.7 122.5,436.3 125.0,446.3 128.3,443.0 132.5,430.5 135.0,436.3 137.5,449.7 140.0,451.3 143.3,446.3 146.7,451.3 149.2,457.2 152.5,453.0 155.8,444.7 159.2,437.2 162.5,443.0 166.7,441.3 170.0,429.7 173.3,423.0 175.8,428.0 179.2,429.7 183.3,418.0 186.7,408.0 190.0,406.3 193.3,411.3 196.7,423.0 200.0,438.0 203.3,454.7 206.7,451.3 210.0,444.7 213.3,438.0 215.0,426.3 218.3,424.7 222.5,419.7 226.7,413.8 229.2,415.5 231.7,433.0 234.2,448.0 236.7,453.0 240.8,453.0 245.0,446.3 249.2,442.2 251.7,448.0 255.0,452.2 258.3,455.5 260.8,444.7 263.3,433.0 265.8,423.8 268.3,428.8 271.7,438.0 275.0,447.2 278.3,449.7 281.7,453.8 285.0,456.3 288.3,450.5 291.7,444.7 295.0,436.3 298.3,423.8 301.7,415.5 305.8,413.8 310.0,409.7 313.3,413.8 316.7,419.7 318.3,422.2 322.5,424.7 326.7,424.7 330.8,432.2 334.2,427.2 336.7,418.0 339.2,418.8 341.7,428.0 345.0,442.2 348.3,433.8 351.7,423.0 355.0,439.7 358.3,444.7 361.7,448.0 365.0,454.7 368.3,456.3 371.7,444.7 375.0,433.8 378.3,443.0 381.7,445.5 385.0,436.3 388.3,428.8 391.7,435.5 395.0,446.3 398.3,455.5 401.7,457.7 406.7,458.0 410.8,457.2 413.3,446.3 415.8,431.3 418.3,427.2 421.7,428.8 423.3,421.3 426.7,414.7 430.0,419.7 433.3,431.3 436.7,446.3 440.0,453.8 443.3,446.3 446.7,433.0 450.8,424.7 454.2,427.2 458.3,433.0 462.5,421.3 465.8,409.7 470.0,408.0 473.3,411.3 476.7,421.3 480.0,419.7 484.2,419.3 488.3,417.7 491.7,424.7 495.0,441.3 498.3,454.7 501.7,458.0 506.7,455.5 511.7,449.7 515.0,441.3 518.3,429.7 521.7,421.3 523.3,419.3 526.7,423.0 530.0,423.0 532.5,421.3 535.0,415.5 538.3,412.7 541.7,414.7 545.0,423.0 547.5,431.3 550.0,438.0 553.3,437.2 556.7,440.5 560.8,443.0 564.2,448.8 567.5,451.3 570.8,448.8 575.0,446.3 579.2,446.0 582.5,447.2 585.8,453.0 589.2,457.2 592.5,455.5 595.0,449.7 597.5,433.8 600.0,426.3 602.5,414.7" fill="none" stroke="#ff0000" stroke-width="1" stroke-dasharray="3 3" shape-rendering="crispEdges"/>
</svg>
<svg x="3" y="472" width="614" height="67" viewBox="3 472 614 67" overflow="hidden">
<path d="M3.5 502 V517.0 M5.5 502 V517.3 M7.5 502 V517.6 M9.5 502 V517.9 M11.5 502 V517.9 M13.5 502 V517.7 M15.5 502 V517.5 M17.5 502 V517.3 M19.5 502 V517.1 M21.5 502 V516.8 M23.5 502 V516.2 M25.5 502 V515.8 M27.5 502 V515.2 M29.5 502 V511.5 M31.5 502 V502.0 M33.5 502 V492.0 M35.5 502 V487.5 M37.5 502 V490.0 M39.5 502 V504.0 M41.5 502 V508.0 M43.5 502 V510.0 M45.5 502 V512.0 M47.5 502 V512.4 M49.5 502 V512.8 M51.5 502 V513.0 M53.5 502 V513.1 M55.5 502 V513.2 M57.5 502 V513.4 M59.5 502 V513.5 M61.5 502 V513.2 M63.5 502 V512.8 M65.5 502 V512.2 M67.5 502 V511.8 M69.5 502 V511.2 M71.5 502 V510.8 M73.5 502 V510.4 M75.5 502 V510.0 M77.5 502 V508.8 M79.5 502 V507.6 M81.5 502 V506.6 M83.5 502 V505.8 M85.5 502 V505.0 M87.5 502 V504.8 M89.5 502 V504.6 M91.5 502 V503.6 M93.5 502 V501.8 M95.5 502 V500.0 M97.5 502 V498.0 M99.5 502 V495.7 M101.5 502 V493.0 M103.5 502 V491.0 M105.5 502 V489.0 M107.5 502 V486.5 M109.5 502 V484.6 M111.5 502 V483.3 M113.5 502 V482.0 M115.5 502 V482.3 M117.5 502 V482.6 M119.5 502 V483.4 M121.5 502 V484.7 M123.5 502 V485.8 M125.5 502 V486.8 M127.5 502 V487.8 M129.5 502 V487.8 M131.5 502 V487.8 M133.5 502 V489.5 M135.5 502 V492.0 M137.5 502 V493.7 M139.5 502 V494.8 M141.5 502 V496.4 M143.5 502 V498.7 M145.5 502 V500.4 M147.5 502 V502.0 M149.5 502 V503.1 M151.5 502 V504.2 M153.5 502 V505.2 M155.5 502 V506.2 M157.5 502 V506.8 M159.5 502 V507.5 M161.5 502 V508.5 M163.5 502 V509.2 M165.5 502 V508.1 M167.5 502 V507.0 M169.5 502 V506.7 M171.5 502 V506.4 M173.5 502 V506.0 M175.5 502 V505.7 M177.5 502 V505.3 M179.5 502 V504.1 M181.5 502 V502.8 M183.5 502 V497.8 M185.5 502 V494.9 M187.5 502 V492.0 M189.5 502 V488.1 M191.5 502 V485.2 M193.5 502 V483.3 M195.5 502 V482.6 M197.5 502 V482.9 M199.5 502 V484.0 M201.5 502 V485.5 M203.5 502 V487.0 M205.5 502 V489.0 M207.5 502 V491.0 M209.5 502 V492.2 M211.5 502 V492.7 M213.5 502 V493.2 M215.5 502 V493.7 M217.5 502 V493.8 M219.5 502 V493.9 M221.5 502 V494.1 M223.5 502 V494.3 M225.5 502 V494.5 M227.5 502 V494.9 M229.5 502 V495.3 M231.5 502 V496.2 M233.5 502 V498.7 M235.5 502 V502.0 M237.5 502 V503.7 M239.5 502 V505.0 M241.5 502 V506.0 M243.5 502 V507.0 M245.5 502 V508.0 M247.5 502 V508.8 M249.5 502 V509.6 M251.5 502 V510.4 M253.5 502 V511.2 M255.5 502 V512.0 M257.5 502 V515.3 M259.5 502 V516.5 M261.5 502 V516.2 M263.5 502 V516.6 M265.5 502 V517.0 M267.5 502 V517.8 M269.5 502 V518.6 M271.5 502 V519.6 M273.5 502 V520.8 M275.5 502 V522.0 M277.5 502 V525.3 M279.5 502 V527.3 M281.5 502 V529.3 M283.5 502 V531.0 M285.5 502 V532.3 M287.5 502 V533.7 M289.5 502 V534.0 M291.5 502 V534.3 M293.5 502 V534.0 M295.5 502 V533.0 M297.5 502 V532.0 M299.5 502 V529.3 M301.5 502 V526.6 M303.5 502 V524.0 M305.5 502 V521.3 M307.5 502 V518.7 M309.5 502 V516.7 M311.5 502 V514.7 M313.5 502 V513.0 M315.5 502 V511.7 M317.5 502 V510.3 M319.5 502 V508.8 M321.5 502 V507.4 M323.5 502 V506.2 M325.5 502 V505.0 M327.5 502 V504.6 M329.5 502 V504.2 M331.5 502 V503.9 M333.5 502 V503.7 M335.5 502 V503.5 M337.5 502 V503.3 M339.5 502 V503.1 M341.5 502 V502.6 M343.5 502 V501.8 M345.5 502 V501.0 M347.5 502 V499.8 M349.5 502 V498.6 M351.5 502 V497.4 M353.5 502 V496.2 M355.5 502 V495.0 M357.5 502 V495.8 M359.5 502 V496.6 M361.5 502 V497.6 M363.5 502 V498.8 M365.5 502 V500.0 M367.5 502 V500.8 M369.5 502 V501.6 M371.5 502 V502.2 M373.5 502 V502.6 M375.5 502 V503.0 M377.5 502 V503.8 M379.5 502 V504.6 M381.5 502 V505.1 M383.5 502 V505.3 M385.5 502 V505.5 M387.5 502 V505.7 M389.5 502 V505.9 M391.5 502 V506.2 M393.5 502 V506.6 M395.5 502 V507.0 M397.5 502 V512.0 M399.5 502 V516.5 M401.5 502 V520.4 M403.5 502 V523.7 M405.5 502 V527.0 M407.5 502 V529.2 M409.5 502 V530.6 M411.5 502 V531.3 M413.5 502 V532.0 M415.5 502 V531.3 M417.5 502 V530.6 M419.5 502 V529.8 M421.5 502 V528.9 M423.5 502 V528.0 M425.5 502 V526.8 M427.5 502 V525.6 M429.5 502 V523.5 M431.5 502 V522.0 M433.5 502 V522.0 M435.5 502 V522.0 M437.5 502 V522.0 M439.5 502 V522.0 M441.5 502 V521.9 M443.5 502 V521.7 M445.5 502 V521.5 M447.5 502 V521.3 M449.5 502 V521.1 M451.5 502 V520.9 M453.5 502 V520.8 M455.5 502 V520.6 M457.5 502 V520.5 M459.5 502 V520.4 M461.5 502 V519.6 M463.5 502 V518.3 M465.5 502 V517.0 M467.5 502 V515.0 M469.5 502 V513.0 M471.5 502 V511.0 M473.5 502 V509.0 M475.5 502 V507.0 M477.5 502 V505.8 M479.5 502 V504.6 M481.5 502 V503.3 M483.5 502 V502.0 M485.5 502 V495.3 M487.5 502 V492.0 M489.5 502 V491.2 M491.5 502 V493.7 M493.5 502 V497.5 M495.5 502 V501.7 M497.5 502 V505.0 M499.5 502 V506.3 M501.5 502 V507.8 M503.5 502 V509.4 M505.5 502 V511.0 M507.5 502 V512.6 M509.5 502 V514.2 M511.5 502 V515.6 M513.5 502 V516.8 M515.5 502 V518.0 M517.5 502 V518.4 M519.5 502 V518.8 M521.5 502 V518.8 M523.5 502 V518.4 M525.5 502 V518.0 M527.5 502 V514.8 M529.5 502 V511.6 M531.5 502 V509.2 M533.5 502 V507.6 M535.5 502 V506.0 M537.5 502 V503.0 M539.5 502 V502.7 M541.5 502 V502.0 M543.5 502 V501.0 M545.5 502 V500.0 M547.5 502 V499.8 M549.5 502 V499.6 M551.5 502 V499.4 M553.5 502 V499.1 M555.5 502 V498.8 M557.5 502 V498.4 M559.5 502 V498.1 M561.5 502 V498.2 M563.5 502 V498.6 M565.5 502 V499.0 M567.5 502 V500.6 M569.5 502 V502.2 M571.5 502 V503.6 M573.5 502 V504.7 M575.5 502 V505.9 M577.5 502 V507.2 M579.5 502 V509.0 M581.5 502 V511.0 M583.5 502 V513.0 M585.5 502 V515.0 M587.5 502 V519.0 M589.5 502 V522.2 M591.5 502 V524.1 M593.5 502 V524.9 M595.5 502 V525.6 M597.5 502 V524.4 M599.5 502 V523.1 M601.5 502 V521.3 M603.5 502 V519.0" stroke="#c0c0c0" stroke-width="1" fill="none" shape-rendering="crispEdges"/>
<polyline points="2.5,505.3 5.0,509.5 8.3,513.7 13.3,516.7 18.3,517.3 23.3,517.3 27.5,516.7 30.8,512.8 33.3,509.5 36.7,504.5 40.8,500.7 44.2,500.3 48.3,501.7 50.8,505.0 53.3,508.7 57.5,512.0 63.3,512.5 66.7,512.0 70.0,510.7 75.0,509.5 80.0,507.3 85.0,505.3 90.0,503.7 95.0,502.0 100.0,500.7 105.0,497.5 110.0,492.0 115.0,486.2 120.0,482.3 126.7,480.7 131.7,482.3 136.7,487.8 143.3,492.8 150.0,497.8 155.0,502.0 161.7,505.3 166.7,507.8 171.7,508.3 176.7,507.3 181.7,504.5 186.7,500.3 191.7,494.5 195.8,488.7 200.0,485.3 205.0,484.0 210.0,485.8 215.0,489.0 220.0,492.3 225.0,493.7 230.0,494.5 236.7,496.2 241.7,500.3 248.3,504.5 255.0,507.8 260.0,511.2 266.7,513.3 273.3,517.0 278.3,521.2 283.3,526.2 288.3,530.7 293.3,534.0 297.5,534.5 301.7,531.2 306.7,526.2 311.7,521.2 316.7,516.2 320.0,511.5 325.0,507.8 330.0,506.2 336.7,505.0 341.7,504.0 346.7,502.0 351.7,499.5 356.7,497.8 361.7,497.3 366.7,498.7 371.7,500.7 376.7,502.8 381.7,505.3 388.3,506.2 393.3,507.0 396.7,509.5 400.0,513.7 405.0,520.3 410.0,527.0 415.0,531.7 420.0,534.0 425.0,532.5 428.3,528.7 433.3,526.2 438.3,524.5 445.0,523.3 451.7,523.3 458.3,522.0 463.3,520.3 468.3,516.2 473.3,512.0 478.3,507.8 483.3,504.5 488.3,501.2 493.3,497.8 498.3,497.3 501.7,498.7 505.0,502.0 508.3,506.2 511.7,510.3 515.0,513.7 520.0,517.0 525.0,518.5 530.0,517.8 535.0,513.7 540.0,509.5 545.0,505.3 550.0,501.7 555.0,499.0 560.0,498.2 565.0,498.7 567.5,499.4 573.8,502.5 580.0,506.2 586.2,510.6 592.5,516.2 598.8,521.2 603.0,523.0" fill="none" stroke="#ff0000" stroke-width="1" stroke-dasharray="3 3" shape-rendering="crispEdges"/>
<path d="M409 536 L617 507.5" stroke="#ff0000" stroke-width="2.2" fill="none" shape-rendering="crispEdges"/>
</svg>
<path d="M2.5 2.5 H617.5 V319.5 H2.5 Z M2.5 321.5 H617.5 V395.5 H2.5 Z M2.5 397.5 H617.5 V469.5 H2.5 Z M2.5 471.5 H617.5 V539.5 H2.5 Z" stroke="#000" stroke-width="1" fill="none" shape-rendering="crispEdges"/>
<text x="623.0" y="23.0" textLength="32.5" lengthAdjust="spacingAndGlyphs">1364.80</text>
<text x="623.0" y="56.0" textLength="32.5" lengthAdjust="spacingAndGlyphs">1357.80</text>
<text x="623.0" y="89.0" textLength="32.5" lengthAdjust="spacingAndGlyphs">1350.60</text>
<text x="623.0" y="122.0" textLength="32.5" lengthAdjust="spacingAndGlyphs">1343.40</text>
<text x="623.0" y="155.0" textLength="32.5" lengthAdjust="spacingAndGlyphs">1336.40</text>
<text x="623.0" y="188.0" textLength="32.5" lengthAdjust="spacingAndGlyphs">1329.20</text>
<text x="623.0" y="221.0" textLength="32.5" lengthAdjust="spacingAndGlyphs">1322.20</text>
<text x="623.0" y="254.0" textLength="32.5" lengthAdjust="spacingAndGlyphs">1315.00</text>
<text x="623.0" y="287.0" textLength="32.5" lengthAdjust="spacingAndGlyphs">1307.80</text>
<text x="623.0" y="320.0" textLength="32.5" lengthAdjust="spacingAndGlyphs">1300.80</text>
<text x="621.0" y="332.0" textLength="15.0" lengthAdjust="spacingAndGlyphs">100</text>
<text x="621.0" y="348.0" textLength="10.0" lengthAdjust="spacingAndGlyphs">70</text>
<text x="621.0" y="377.0" textLength="10.0" lengthAdjust="spacingAndGlyphs">30</text>
<text x="621.0" y="392.0" textLength="5.0" lengthAdjust="spacingAndGlyphs">0</text>
<text x="621.0" y="408.0" textLength="15.0" lengthAdjust="spacingAndGlyphs">100</text>
<text x="621.0" y="416.0" textLength="10.0" lengthAdjust="spacingAndGlyphs">80</text>
<text x="621.0" y="458.0" textLength="10.0" lengthAdjust="spacingAndGlyphs">20</text>
<text x="621.0" y="466.0" textLength="5.0" lengthAdjust="spacingAndGlyphs">0</text>
<text x="621.0" y="482.0" textLength="22.5" lengthAdjust="spacingAndGlyphs">3.401</text>
<text x="621.0" y="506.0" textLength="17.5" lengthAdjust="spacingAndGlyphs">0.00</text>
<text x="621.0" y="537.0" textLength="25.5" lengthAdjust="spacingAndGlyphs">-4.142</text>
<path d="M618 19.5 H620 M618 52.5 H620 M618 85.5 H620 M618 118.5 H620 M618 151.5 H620 M618 184.5 H620 M618 217.5 H620 M618 250.5 H620 M618 283.5 H620 M618 316.5 H620 M618 322.5 H620 M618 344.5 H620 M618 373.5 H620 M618 394.5 H620 M618 398.5 H620 M618 412.5 H620 M618 454.5 H620 M618 468.5 H620 M618 472.5 H620 M618 502.5 H620 M618 538.5 H620 M3.5 540 V543 M67.5 540 V543 M131.5 540 V543 M195.5 540 V543 M259.5 540 V543 M323.5 540 V543 M387.5 540 V543 M451.5 540 V543 M515.5 540 V543 M579.5 540 V543" stroke="#000" stroke-width="1" fill="none" shape-rendering="crispEdges"/>
<rect x="619" y="197" width="41" height="11" fill="#ff0000"/>
<text class="w" x="623.0" y="206.5" textLength="32.5" lengthAdjust="spacingAndGlyphs">1325.05</text>
<rect x="619" y="218" width="41" height="11" fill="#ff0000"/>
<text class="w" x="623.0" y="227.5" textLength="32.5" lengthAdjust="spacingAndGlyphs">1320.50</text>
<rect x="619" y="247" width="41" height="11" fill="#000000"/>
<text class="w" x="623.0" y="256.5" textLength="32.5" lengthAdjust="spacingAndGlyphs">1314.65</text>
<rect x="619" y="253" width="41" height="11" fill="#008000"/>
<text class="w" x="623.0" y="262.5" textLength="32.5" lengthAdjust="spacingAndGlyphs">1312.99</text>
<rect x="619" y="271" width="41" height="11" fill="#008000"/>
<text class="w" x="623.0" y="280.5" textLength="32.5" lengthAdjust="spacingAndGlyphs">1309.16</text>
<rect x="619" y="290" width="41" height="11" fill="#008000"/>
<text class="w" x="623.0" y="299.5" textLength="32.5" lengthAdjust="spacingAndGlyphs">1305.00</text>
<text x="3.0" y="552.0" textLength="52.3" lengthAdjust="spacingAndGlyphs">12 Aug 2016</text>
<text x="67.0" y="552.0" textLength="54.9" lengthAdjust="spacingAndGlyphs">15 Aug 10:00</text>
<text x="131.0" y="552.0" textLength="54.9" lengthAdjust="spacingAndGlyphs">16 Aug 19:00</text>
<text x="195.0" y="552.0" textLength="54.9" lengthAdjust="spacingAndGlyphs">18 Aug 05:00</text>
<text x="259.0" y="552.0" textLength="54.9" lengthAdjust="spacingAndGlyphs">19 Aug 14:00</text>
<text x="323.0" y="552.0" textLength="54.9" lengthAdjust="spacingAndGlyphs">23 Aug 01:00</text>
<text x="387.0" y="552.0" textLength="54.9" lengthAdjust="spacingAndGlyphs">24 Aug 10:00</text>
<text x="451.0" y="552.0" textLength="54.9" lengthAdjust="spacingAndGlyphs">25 Aug 19:00</text>
<text x="515.0" y="552.0" textLength="54.9" lengthAdjust="spacingAndGlyphs">29 Aug 06:00</text>
<text x="579.0" y="552.0" textLength="54.9" lengthAdjust="spacingAndGlyphs">30 Aug 15:00</text>
<path d="M5.5 8.5 H13.5 L9.5 13 Z" fill="#000"/>
<text x="17.8" y="14.0" textLength="53.5" lengthAdjust="spacingAndGlyphs">XAUUSD,H1</text>
<text x="78.6" y="14.0" textLength="32.5" lengthAdjust="spacingAndGlyphs">1315.25</text>
<text x="114.7" y="14.0" textLength="32.5" lengthAdjust="spacingAndGlyphs">1315.40</text>
<text x="150.7" y="14.0" textLength="32.5" lengthAdjust="spacingAndGlyphs">1314.15</text>
<text x="186.7" y="14.0" textLength="32.5" lengthAdjust="spacingAndGlyphs">1314.65</text>
<text x="7.6" y="334.0" textLength="31.3" lengthAdjust="spacingAndGlyphs">RSI(14)</text>
<text x="41.8" y="334.0" textLength="32.5" lengthAdjust="spacingAndGlyphs">42.9036</text>
<text x="80.8" y="334.0" textLength="40.5" lengthAdjust="spacingAndGlyphs">-&gt;MA(18)</text>
<text x="125.1" y="334.0" textLength="32.5" lengthAdjust="spacingAndGlyphs">35.6284</text>
<text x="7.4" y="410.0" textLength="49.8" lengthAdjust="spacingAndGlyphs">Stoch(5,3,3)</text>
<text x="59.9" y="410.0" textLength="32.5" lengthAdjust="spacingAndGlyphs">90.0491</text>
<text x="95.8" y="410.0" textLength="32.5" lengthAdjust="spacingAndGlyphs">80.6574</text>
<text x="7.4" y="484.0" textLength="65.5" lengthAdjust="spacingAndGlyphs">MACD(12,26,9)</text>
<text x="75.7" y="484.0" textLength="26.3" lengthAdjust="spacingAndGlyphs">-2.050</text>
<text x="104.9" y="484.0" textLength="26.3" lengthAdjust="spacingAndGlyphs">-2.430</text>
</svg></body></html>
